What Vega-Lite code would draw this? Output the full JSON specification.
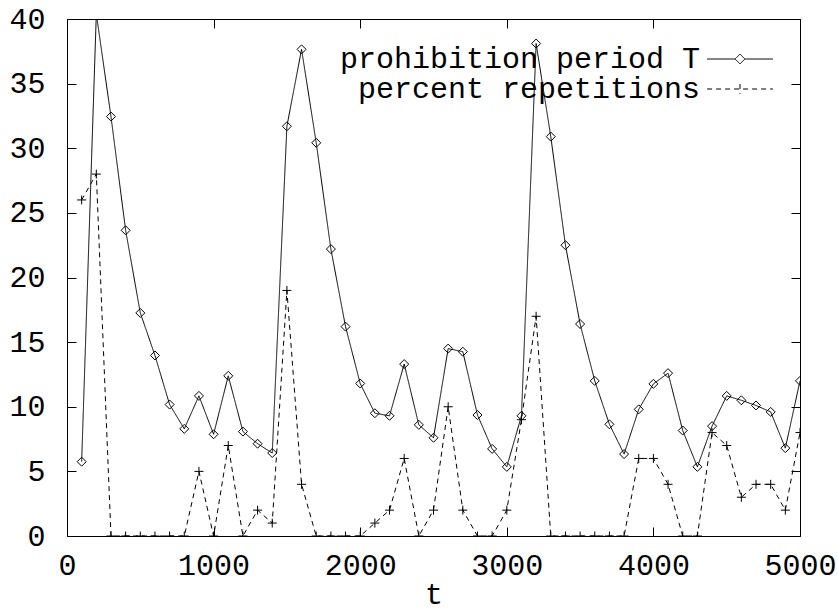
{
  "$schema": "https://vega.github.io/schema/vega-lite/v6.json",
  "width": 733,
  "height": 517,
  "autosize": {"type": "none"},
  "padding": {"left": 67, "top": 19, "right": 38, "bottom": 73},
  "background": "white",
  "config": {
    "view": {"stroke": "black", "strokeWidth": 1},
    "font": "Liberation Mono",
    "axis": {
      "grid": false,
      "domain": false,
      "tickColor": "black",
      "tickWidth": 1,
      "tickSize": -9,
      "labelFont": "Liberation Mono",
      "labelFontSize": 30,
      "labelColor": "black",
      "labelFlush": false,
      "labelOverlap": false,
      "titleFont": "Liberation Mono",
      "titleFontSize": 30,
      "titleFontWeight": "normal",
      "titleColor": "black"
    }
  },
  "data": {
    "values": [
      {"t": 100, "prohibition period T": 5.75, "percent repetitions": 26},
      {"t": 200, "prohibition period T": 40.4, "percent repetitions": 28},
      {"t": 300, "prohibition period T": 32.45, "percent repetitions": 0},
      {"t": 400, "prohibition period T": 23.65, "percent repetitions": 0},
      {"t": 500, "prohibition period T": 17.26, "percent repetitions": 0},
      {"t": 600, "prohibition period T": 13.97, "percent repetitions": 0},
      {"t": 700, "prohibition period T": 10.17, "percent repetitions": 0},
      {"t": 800, "prohibition period T": 8.29, "percent repetitions": 0},
      {"t": 900, "prohibition period T": 10.84, "percent repetitions": 5},
      {"t": 1000, "prohibition period T": 7.87, "percent repetitions": 0},
      {"t": 1100, "prohibition period T": 12.39, "percent repetitions": 7},
      {"t": 1200, "prohibition period T": 8.08, "percent repetitions": 0},
      {"t": 1300, "prohibition period T": 7.14, "percent repetitions": 2},
      {"t": 1400, "prohibition period T": 6.42, "percent repetitions": 1},
      {"t": 1500, "prohibition period T": 31.7, "percent repetitions": 19},
      {"t": 1600, "prohibition period T": 37.65, "percent repetitions": 4},
      {"t": 1700, "prohibition period T": 30.42, "percent repetitions": 0},
      {"t": 1800, "prohibition period T": 22.2, "percent repetitions": 0},
      {"t": 1900, "prohibition period T": 16.2, "percent repetitions": 0},
      {"t": 2000, "prohibition period T": 11.8, "percent repetitions": 0},
      {"t": 2100, "prohibition period T": 9.5, "percent repetitions": 1},
      {"t": 2200, "prohibition period T": 9.3, "percent repetitions": 2},
      {"t": 2300, "prohibition period T": 13.3, "percent repetitions": 6},
      {"t": 2400, "prohibition period T": 8.6, "percent repetitions": 0},
      {"t": 2500, "prohibition period T": 7.6, "percent repetitions": 2},
      {"t": 2600, "prohibition period T": 14.5, "percent repetitions": 10},
      {"t": 2700, "prohibition period T": 14.26, "percent repetitions": 2},
      {"t": 2800, "prohibition period T": 9.36, "percent repetitions": 0},
      {"t": 2900, "prohibition period T": 6.74, "percent repetitions": 0},
      {"t": 3000, "prohibition period T": 5.35, "percent repetitions": 2},
      {"t": 3100, "prohibition period T": 9.3, "percent repetitions": 9},
      {"t": 3200, "prohibition period T": 38.1, "percent repetitions": 17},
      {"t": 3300, "prohibition period T": 30.9, "percent repetitions": 0},
      {"t": 3400, "prohibition period T": 22.5, "percent repetitions": 0},
      {"t": 3500, "prohibition period T": 16.4, "percent repetitions": 0},
      {"t": 3600, "prohibition period T": 12.0, "percent repetitions": 0},
      {"t": 3700, "prohibition period T": 8.64, "percent repetitions": 0},
      {"t": 3800, "prohibition period T": 6.34, "percent repetitions": 0},
      {"t": 3900, "prohibition period T": 9.8, "percent repetitions": 6},
      {"t": 4000, "prohibition period T": 11.77, "percent repetitions": 6},
      {"t": 4100, "prohibition period T": 12.6, "percent repetitions": 4},
      {"t": 4200, "prohibition period T": 8.16, "percent repetitions": 0},
      {"t": 4300, "prohibition period T": 5.35, "percent repetitions": 0},
      {"t": 4400, "prohibition period T": 8.5, "percent repetitions": 8},
      {"t": 4500, "prohibition period T": 10.84, "percent repetitions": 7},
      {"t": 4600, "prohibition period T": 10.5, "percent repetitions": 3},
      {"t": 4700, "prohibition period T": 10.1, "percent repetitions": 4},
      {"t": 4800, "prohibition period T": 9.6, "percent repetitions": 4},
      {"t": 4900, "prohibition period T": 6.8, "percent repetitions": 2},
      {"t": 5000, "prohibition period T": 12.0, "percent repetitions": 8}
    ]
  },
  "transform": [
    {"fold": ["prohibition period T", "percent repetitions"], "as": ["series", "value"]}
  ],
  "layer": [
    {
      "mark": {"type": "line", "clip": true, "color": "black", "strokeWidth": 1},
      "encoding": {
        "x": {
          "field": "t", "type": "quantitative",
          "scale": {"domain": [0, 5000], "nice": false, "zero": false},
          "axis": {"orient": "bottom", "values": [0, 1000, 2000, 3000, 4000, 5000], "format": "d", "labelPadding": 23, "title": "t", "titlePadding": -1}
        },
        "y": {
          "field": "value", "type": "quantitative",
          "scale": {"domain": [0, 40], "nice": false},
          "axis": {"orient": "left", "values": [0, 5, 10, 15, 20, 25, 30, 35, 40], "format": "d", "labelPadding": 31, "title": null}
        },
        "strokeDash": {
          "field": "series", "type": "nominal",
          "scale": {"domain": ["prohibition period T", "percent repetitions"], "range": [[1, 0], [5, 4]]},
          "legend": {
            "orient": "top-right",
            "offset": 25,
            "padding": 0,
            "title": null,
            "labelFont": "Liberation Mono",
            "labelFontSize": 30,
            "labelColor": "black",
            "labelAlign": "right",
            "labelOffset": -55,
            "labelLimit": 0,
            "rowPadding": 0,
            "symbolSize": 196,
            "symbolOpacity": 1,
            "symbolStrokeColor": "black",
            "symbolStrokeWidth": 1,
            "symbolFillColor": "transparent",
            "encode": {
              "symbols": {
                "update": {
                  "shape": {"signal": "datum.value === 'prohibition period T' ? 'M-4.7,0L-0.7,0M0.7,0L4.7,0M0,-0.7L0.7,0L0,0.7L-0.7,0Z' : 'M-4.7,0L4.7,0M0,-0.7L0,0.7'"},
                  "size": {"value": 196},
                  "fill": {"value": "transparent"},
                  "stroke": {"value": "black"},
                  "opacity": {"value": 1}
                }
              }
            }
          }
        }
      }
    },
    {
      "transform": [{"filter": "datum.series === 'prohibition period T'"}],
      "mark": {"type": "point", "shape": "diamond", "clip": true, "filled": false, "color": "black", "opacity": 1, "strokeWidth": 1, "size": 81},
      "encoding": {
        "x": {
          "field": "t", "type": "quantitative",
          "axis": {"orient": "top", "values": [0, 1000, 2000, 3000, 4000, 5000], "labels": false, "title": null}
        },
        "y": {
          "field": "value", "type": "quantitative",
          "axis": {"orient": "right", "values": [0, 5, 10, 15, 20, 25, 30, 35, 40], "labels": false, "title": null}
        }
      }
    },
    {
      "transform": [{"filter": "datum.series === 'percent repetitions'"}],
      "mark": {"type": "point", "shape": "M-1,0L1,0M0,-1L0,1", "clip": true, "filled": false, "color": "black", "opacity": 1, "strokeWidth": 1, "size": 81},
      "encoding": {
        "x": {"field": "t", "type": "quantitative", "axis": null},
        "y": {"field": "value", "type": "quantitative", "axis": null}
      }
    }
  ],
  "resolve": {"axis": {"x": "independent", "y": "independent"}}
}
